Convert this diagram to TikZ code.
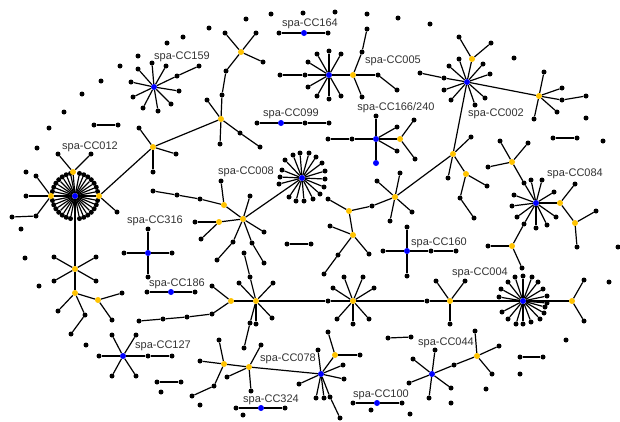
\documentclass[tikz,border=0pt]{standalone}
\usepackage{fontspec}
\setmainfont{Liberation Sans}
\definecolor{orgc}{RGB}{255,195,0}
\tikzset{
  dot/.style={circle,fill=black,inner sep=0pt,minimum size=5pt},
  bdot/.style={dot,fill=blue,minimum size=6pt},
  odot/.style={dot,fill=orgc,minimum size=6pt},
  edge/.style={line width=1.2pt},
  lbl/.style={font=\fontsize{11}{13}\selectfont,text=black!80,inner sep=0pt}
}
\newcommand\glink[2]{\draw[edge] (#1) -- (#2);}
\newcommand\gdot[3]{\node[dot] (#1) at (#2,#3) {};}
\newcommand\gblue[3]{\node[bdot] (#1) at (#2,#3) {};}
\newcommand\gorg[3]{\node[odot] (#1) at (#2,#3) {};}
\newcommand\gleaf[4]{\node[dot] (#1) at (#2,#3) {};\glink{#4}{#1}}
\newcommand\gstar[3]{\foreach \gx/\gy [count=\gi] in {#3} {\node[dot] (#2-\gi) at (\gx,\gy) {}; \glink{#1}{#2-\gi}}}
\begin{document}
\begin{tikzpicture}[x=1pt,y=-1pt]
\useasboundingbox (0,0) rectangle (620,421);
% isolated dots
\foreach \x/\y [count=\i] in {49/128,64/112,82/94,101/81,120/66,138/56,167/43,183/37,209/28,246/19,271/14,303/13,335/12,367/14,398/18,430/24,514/58,586/118,603/141,618/247,609/282,566/340,520/374,486/389,451/403,410/414,371/410,243/415,200/405,161/392,86/345,39/286,25/258,21/229,26/172,37/148}
  {\node[dot] (iso\i) at (\x,\y) {};}
% pairs
\gdot{pa1}{94}{125}\gleaf{pa2}{118}{125}{pa1}
\gdot{pb1}{553}{138}\gleaf{pb2}{577}{138}{pb1}
\gdot{pc1}{287}{244}\gleaf{pc2}{311}{244}{pc1}
\gdot{pd1}{157}{382}\gleaf{pd2}{181}{382}{pd1}
\gdot{pe1}{520}{357}\gleaf{pe2}{543}{357}{pe1}
\gdot{pf1}{388}{338}\gleaf{pf2}{411}{337}{pf1}
% CC164
\gblue{h164}{304}{33}\gleaf{a164}{279}{33}{h164}\gleaf{b164}{328}{33}{h164}
% CC099
\gblue{h099}{281}{123}\gleaf{a099}{257}{123}{h099}\gleaf{b099}{305}{123}{h099}\gleaf{c099}{329}{123}{b099}
% CC186
\gblue{h186}{171}{292}\gleaf{a186}{147}{292}{h186}\gleaf{b186}{195}{292}{h186}
% CC324
\gblue{h324}{261}{408}\gleaf{a324}{236}{408}{h324}\gleaf{b324}{285}{408}{h324}
% CC100
\gblue{h100}{377}{403}\gleaf{a100}{353}{403}{h100}\gleaf{b100}{402}{403}{h100}
% CC316
\gblue{h316}{148}{253}\gstar{h316}{l316}{148/229,124/253,172/253,148/277}
% CC160
\gblue{h160}{407}{251}\gstar{h160}{l160}{407/227,407/276,383/251,431/251}\gleaf{e160}{456}{251}{l160-4}
% CC127
\gblue{h127}{123}{356}\gstar{h127}{l127}{112/335,136/335,99/356,112/376,136/376,148/356}\gleaf{g127}{172}{356}{l127-6}
% CC166/240
\gblue{h166}{376}{139}\gstar{h166}{l166}{376/116,397/127,397/151,352/139}
\gblue{b166}{376}{163}\glink{h166}{b166}
\gleaf{f166}{328}{139}{l166-4}
\gorg{o166}{400}{139}\glink{h166}{o166}
\gstar{o166}{m166}{414/120,415/159}
% CC159
\gblue{h159}{154}{87}\gstar{h159}{l159}{152/63,166/66,179/91,171/104,158/111,143/108,133/97,131/82,138/69,177/76}
\gleaf{x159}{199}{66}{l159-10}
% CC005
\gblue{h005}{329}{75}\gstar{h005}{l005}{317/54,329/51,341/54,308/62,308/87,317/96,329/99,341/96,305/75}
\gleaf{x005}{280}{75}{l005-9}
\gorg{o005}{353}{75}\glink{h005}{o005}
\gstar{o005}{m005}{362/97,362/52,378/75}
\gleaf{y005}{367}{29}{m005-2}\gleaf{z005}{397}{90}{m005-3}
% CC002 component
\gblue{h002}{467}{82}\gstar{h002}{l002}{459/59,483/64,490/74,485/98,475/105,451/100,444/90,449/66,444/78}
\gleaf{x002}{420}{73}{l002-9}
\gorg{oJ}{472}{59}\glink{h002}{oJ}\gstar{oJ}{mJ}{459/37,491/43}
\gorg{oK}{539}{96}\glink{h002}{oK}\gstar{oK}{mK}{544/72,562/88,557/112,534/119,562/100}
\gleaf{xK}{586}{96}{mK-5}
\gorg{oL}{453}{154}\glink{h002}{oL}\gstar{oL}{mL}{471/137,448/178}
\gorg{oM}{466}{174}\glink{oL}{oM}\gstar{oM}{mM}{487/186,460/198}
\gleaf{xM}{474}{218}{mM-2}
\gorg{oN}{395}{197}\glink{oL}{oN}\gstar{oN}{mN}{400/173,377/181,390/221,412/212,372/206}
\gorg{oO}{349}{211}\glink{mN-5}{oO}\gstar{oO}{mO}{328/199}
\gorg{oP}{353}{235}\glink{oO}{oP}\gstar{oP}{mP}{330/226,369/254,338/255}
\gleaf{xP}{324}{274}{mP-3}
% CC084
\gblue{h084}{536}{203}\gstar{h084}{l084}{531/180,542/180,514/195,512/206,517/217,536/228,547/225,556/217,554/192,524/183,524/224}
\gorg{oQ}{512}{162}\glink{l084-10}{oQ}\gstar{oQ}{mQ}{500/141,528/143,488/167}
\gorg{oR}{512}{246}\glink{l084-11}{oR}\gstar{oR}{mR}{488/246,522/268}
\gorg{oS}{560}{203}\glink{h084}{oS}\gstar{oS}{mS}{575/184}
\gorg{oT}{575}{223}\glink{oS}{oT}\gstar{oT}{mT}{596/211,577/247}
% CC012 component
\gblue{h012}{75}{196}
\foreach \k in {1,...,7,9,10,...,15,17,18,...,23,25,26,...,31}
  {\node[dot] (r012-\k) at ([shift={(\k*11.25:23)}]h012) {}; \glink{h012}{r012-\k}}
\gorg{oUp}{73}{172}\glink{h012}{oUp}\gstar{oUp}{mUp}{58/154,91/154}
\gorg{oLf}{51}{196}\glink{h012}{oLf}\gstar{oLf}{mLf}{26/196,36/176,36/216}
\gleaf{xLf}{12}{217}{mLf-3}
\gorg{oRt}{99}{196}\glink{h012}{oRt}\gstar{oRt}{mRt}{117/212}
\gorg{oA}{153}{147}\glink{oRt}{oA}\gstar{oA}{mA}{139/128,176/154,153/172}
\gorg{oB}{221}{119}\glink{oA}{oB}\gstar{oB}{mB}{207/100,220/144,240/133,222/95}
\gleaf{xB}{260}{147}{mB-3}\gleaf{yB}{226}{71}{mB-4}
\gorg{oC}{241}{52}\glink{yB}{oC}\gstar{oC}{mC}{225/33,256/33,263/62}
\gorg{oD}{75}{269}\glink{h012}{oD}\gstar{oD}{mD}{54/257,96/257,54/281,96/281}
\gorg{oE}{75}{293}\glink{oD}{oE}\gstar{oE}{mE}{58/311,85/315}
\gleaf{xE}{71}{334}{mE-2}
\gorg{oF}{98}{300}\glink{oE}{oF}\gstar{oF}{mF}{122/293,112/320}
% CC008 component
\gblue{h008}{302}{178}\gstar{h008}{l008}{293/155,300/153,309/153,316/157,322/163,325/171,325/179,324/187,320/194,313/199,304/201,296/201,289/197,282/170,280/177,279/184,285/160}
\gorg{oG}{243}{219}\glink{h008}{oG}\gstar{oG}{mG}{250/196,264/232,233/242,252/243}
\gleaf{xG}{217}{260}{mG-3}\gleaf{yG}{264}{263}{mG-4}
\gorg{oH}{224}{205}\glink{oG}{oH}\gstar{oH}{mH}{221/181,200/199}
\gleaf{xH}{177}{195}{mH-2}\gleaf{yH}{153}{191}{xH}
\gorg{oI}{219}{222}\glink{oG}{oI}\gstar{oI}{mI}{195/222,201/239}
% long line component
\gorg{oU2}{231}{301}\gstar{oU2}{mU2}{212/286,212/314}
\gleaf{c1}{187}{317}{mU2-2}\gleaf{c2}{163}{319}{c1}\gleaf{c3}{139}{321}{c2}
\gorg{oV}{256}{301}\glink{oU2}{oV}\gstar{oV}{mV}{239/283,273/283,272/318,256/324,250/277,250/323}
\gleaf{xV}{244}{253}{mV-5}\gleaf{yV}{244}{348}{mV-6}
\gleaf{m1}{328}{301}{oV}
\gorg{oW}{353}{301}\glink{m1}{oW}\gstar{oW}{mW}{344/277,363/277,333/288,374/288,337/319,353/324,369/319}
\gleaf{m2}{427}{301}{oW}
\gorg{oX}{450}{301}\glink{m2}{oX}\gstar{oX}{mX}{436/281,465/281,450/324}
\gblue{h004}{523}{301}\glink{oX}{h004}
\gstar{h004}{l004}{523/276,515/277,532/277,508/282,538/282,501/289,543/289,499/297,547/296,547/303,545/307,502/312,544/313,508/319,540/319,516/324,523/324,531/322}
\gorg{oY}{572}{301}\glink{h004}{oY}\gstar{oY}{mY}{584/280,584/321}
% CC078 component
\gorg{oZ}{224}{364}\gstar{oZ}{mZ}{219/340,200/361,214/386}
\gleaf{xZ}{192}{396}{mZ-3}
\gorg{oAA}{249}{367}\glink{oZ}{oAA}\gstar{oAA}{mAA}{261/345,227/377,251/391}
\gblue{h078}{321}{374}\glink{oAA}{h078}
\gstar{h078}{l078}{318/350,343/365,344/379,299/384,316/398,324/398,330/397}
\gleaf{x078}{340}{418}{l078-7}
\gorg{oAB}{335}{355}\glink{h078}{oAB}\gstar{oAB}{mAB}{328/332,360/355}
% CC044
\gblue{h044}{432}{374}\gstar{h044}{l044}{435/350,413/359,409/383,429/398,451/388,454/365}
\gorg{o044}{477}{356}\glink{l044-6}{o044}\gstar{o044}{m044}{475/331,499/346,492/374}
% labels
\node[lbl] (t159) at (182,57) {spa-CC159};
\node[lbl] (t164) at (310,24) {spa-CC164};
\node[lbl] (t005) at (393,61) {spa-CC005};
\node[lbl] (t002) at (496,114) {spa-CC002};
\node[lbl] (t099) at (291,114) {spa-CC099};
\node[lbl] (t166) at (396,108) {spa-CC166/240};
\node[lbl] (t012) at (90,147) {spa-CC012};
\node[lbl] (t008) at (246,172) {spa-CC008};
\node[lbl] (t084) at (575,174) {spa-CC084};
\node[lbl] (t316) at (155,221) {spa-CC316};
\node[lbl] (t160) at (439,243) {spa-CC160};
\node[lbl] (t004) at (480,273) {spa-CC004};
\node[lbl] (t186) at (177,284) {spa-CC186};
\node[lbl] (t127) at (163,346) {spa-CC127};
\node[lbl] (t078) at (288,359) {spa-CC078};
\node[lbl] (t044) at (446,343) {spa-CC044};
\node[lbl] (t324) at (271,400) {spa-CC324};
\node[lbl] (t100) at (381,395) {spa-CC100};
\end{tikzpicture}
\end{document}
